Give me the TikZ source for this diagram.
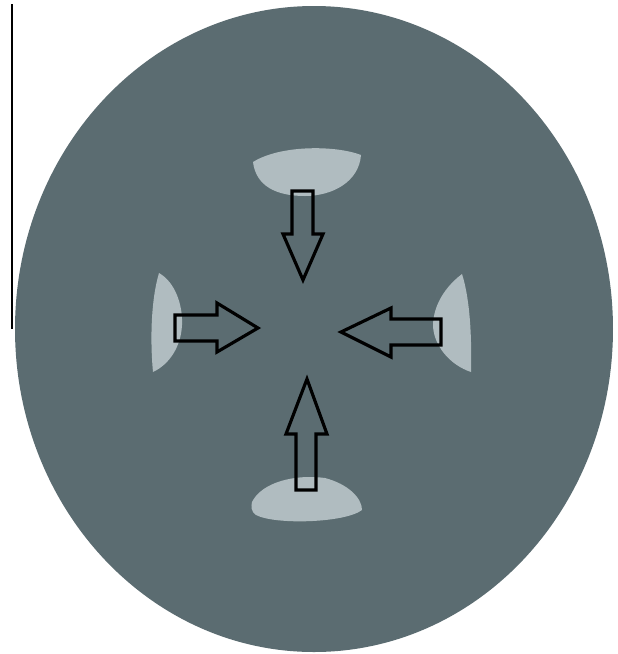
\documentclass[tikz,border=0pt]{standalone}
\usepackage{tikz}
\usepackage{xcolor}
\definecolor{slate}{HTML}{5B6C71}
\definecolor{mist}{HTML}{B0BCC0}
\tikzset{
    lightcap/.style={fill=mist},
    blockarrow/.style={draw=black, line width=1.8pt, line join=miter},
}

\begin{document}
\begin{tikzpicture}[x={(0.02cm,0)}, y={(0,-0.02cm)}]
    % Canvas
    \fill[white] (0,0) rectangle (618,654);
    \useasboundingbox (0,0) rectangle (618,654);

    % Thin line at the left
    \draw[line width=0.6pt, black] (12,4) -- (12,329);

    % Outer body
    \fill[slate] (314,329) ellipse [x radius=299, y radius=323];

    % Top cap
    \fill[lightcap] (253,162) .. controls (280,145) and (335,145) .. (361,155)
        .. controls (359,182) and (332,196) .. (305,196)
        .. controls (276,196) and (256,186) .. cycle;

    % Bottom cap
    \fill[lightcap] (252,502) .. controls (262,482) and (295,474) .. (325,478)
        .. controls (348,484) and (362,498) .. (362,510)
        .. controls (345,523) and (275,525) .. (256,515)
        .. controls (251,512) and (251,506) .. cycle;

    % Left cap
    \fill[lightcap] (159,273) .. controls (175,282) and (183,305) .. (182,325)
        .. controls (181,346) and (170,364) .. (153,372)
        .. controls (150,340) and (151,300) .. cycle;

    % Right cap
    \fill[lightcap] (462,274) .. controls (441,290) and (433,310) .. (433,326)
        .. controls (434,346) and (450,365) .. (471,372)
        .. controls (472,330) and (469,296) .. cycle;

    % Top arrow (down)
    \draw[blockarrow] (292,191) -- (313,191) -- (313,234) -- (323,234)
        -- (303,280) -- (283,234) -- (292,234) -- cycle;

    % Bottom arrow (up)
    \draw[blockarrow] (296,490) -- (316,490) -- (316,434) -- (327,434)
        -- (307,379) -- (286,434) -- (296,434) -- cycle;

    % Left arrow (right)
    \draw[blockarrow] (175,315) -- (217,315) -- (217,303) -- (258,328)
        -- (217,352) -- (217,341) -- (175,341) -- cycle;

    % Right arrow (left)
    \draw[blockarrow] (441,319) -- (391,319) -- (391,308) -- (341,332)
        -- (391,357) -- (391,345) -- (441,345) -- cycle;
\end{tikzpicture}
\end{document}
